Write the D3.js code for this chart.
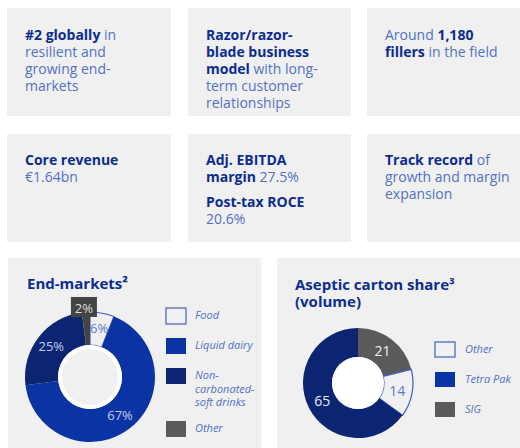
<!DOCTYPE html>
<html>
<head>
<meta charset="utf-8">
<script src="https://cdn.jsdelivr.net/npm/d3@7"></script>
<style>
  html, body { margin: 0; padding: 0; background: #fff; }
  svg { display: block; font-family: "Open Sans", sans-serif; }
</style>
</head>
<body>
<svg id="chart" width="520" height="448"></svg>
<script>
// text of the six fact boxes, one array per box; each line is a list of [text, bold]
const factGlobal = [[["#2 globally", 1], [" in", 0]], [["resilient and", 0]], [["growing end-", 0]], [["markets", 0]]];
const factRazor = [[["Razor/razor-", 1]], [["blade business", 1]], [["model", 1], [" with long-", 0]], [["term customer", 0]], [["relationships", 0]]];
const factFillers = [[["Around ", 0], ["1,180", 1]], [["fillers", 1], [" in the field", 0]]];
const factRevenue = [[["Core revenue", 1]], [["€1.64bn", 0]]];
const factMargin = [[["Adj. EBITDA", 1]], [["margin", 1], [" 27.5%", 0]]];
const factRoce = [[["Post-tax ROCE", 1]], [["20.6%", 0]]];
const factTrack = [[["Track record", 1], [" of", 0]], [["growth and margin", 0]], [["expansion", 0]]];

// end-markets donut
const endMarkets = ["Food", "Liquid dairy", "Non-carbonated-soft drinks", "Other"];
const endMarketShares = [6, 67, 25, 2];
const endMarketLegend = [["Food"], ["Liquid dairy"], ["Non-", "carbonated-", "soft drinks"], ["Other"]];

// aseptic carton share donut (clockwise from top)
const cartonPlayers = ["SIG", "Other", "Tetra Pak"];
const cartonShares = [21, 14, 65];
const cartonLegend = ["Other", "Tetra Pak", "SIG"];

const BOLD = "#0b2d8f", LIGHT = "#5270c6", PANEL = "#f0f0f0";

const svg = d3.select("#chart");

function factBox(x, y, w, h, blocks) {
  svg.append("rect").attr("x", x).attr("y", y).attr("width", w).attr("height", h).attr("fill", PANEL);
  blocks.forEach(b => {
    b.lines.forEach((line, i) => {
      const t = svg.append("text")
        .attr("x", x + 18).attr("y", b.y + i * 17)
        .attr("font-size", 14);
      line.forEach(seg => {
        t.append("tspan").text(seg[0])
          .attr("font-weight", seg[1] ? 700 : 400)
          .attr("fill", seg[1] ? BOLD : LIGHT)
          .attr("xml:space", "preserve");
      });
    });
  });
}

factBox(7, 8, 164, 108, [{y: 40, lines: factGlobal}]);
factBox(188, 8, 163, 108, [{y: 40, lines: factRazor}]);
factBox(367, 8, 160, 108, [{y: 40, lines: factFillers}]);
factBox(7, 134, 164, 108, [{y: 165, lines: factRevenue}]);
factBox(188, 134, 163, 108, [{y: 165, lines: factMargin}, {y: 207, lines: factRoce}]);
factBox(367, 134, 160, 108, [{y: 165, lines: factTrack}]);

// ---------- left panel: end-markets ----------
svg.append("rect").attr("x", 8).attr("y", 258).attr("width", 253).attr("height", 190).attr("fill", PANEL);
svg.append("text").attr("x", 27).attr("y", 289).attr("font-size", 15).attr("font-weight", 700)
  .attr("fill", BOLD).text("End-markets²");

const emColor = d3.scaleOrdinal().domain(endMarkets).range([PANEL, "#0a33a3", "#0b2573", "#444444"]);
const emLegendColor = d3.scaleOrdinal().domain(endMarkets).range([PANEL, "#0a33a3", "#0b2573", "#5a5a5a"]);
const emText = d3.scaleOrdinal().domain(endMarkets).range(["#5a78cc", "#c4cdf0", "#c4cdf0", "#dcdcdc"]);

const pie = d3.pie().sort(null).startAngle(0).endAngle(2 * Math.PI);
const emArcs = pie(endMarketShares);
const c1 = {x: 90, y: 377}, R1 = 65, r1 = 32;
const arc1 = d3.arc().innerRadius(r1).outerRadius(R1);
const label1 = d3.arc().innerRadius(49).outerRadius(49);

const g1 = svg.append("g").attr("transform", `translate(${c1.x},${c1.y})`);
g1.selectAll("path.seg").data(emArcs).enter().append("path")
  .attr("class", "seg")
  .attr("d", arc1)
  .attr("fill", (d, i) => emColor(endMarkets[i]))
  .attr("stroke", (d, i) => i === 0 ? "#3d5fc4" : "none")
  .attr("stroke-width", 1.2);
g1.append("circle").attr("r", r1).attr("fill", "#fff");
g1.append("circle").attr("r", 28).attr("fill", "#f0f0f0");

emArcs.forEach((d, i) => {
  const name = endMarkets[i];
  if (name === "Other") {
    // small slice gets a callout tag above the ring
    const mid = (d.startAngle + d.endAngle) / 2;
    const bx = Math.sin(mid) * R1 - 2;
    g1.append("rect").attr("x", bx - 13).attr("y", -R1 - 15).attr("width", 26).attr("height", 20).attr("fill", "#444444");
    g1.append("text").attr("x", bx).attr("y", -R1 + 0.5).attr("text-anchor", "middle")
      .attr("font-size", 13).attr("fill", "#dcdcdc").text(d.data + "%");
  } else {
    const p = label1.centroid(d);
    g1.append("text").attr("x", p[0]).attr("y", p[1] + 4.5).attr("text-anchor", "middle")
      .attr("font-size", 13).attr("fill", emText(name)).text(d.data + "%");
  }
});

const emLegY = [308, 338, 368, 421];
endMarkets.forEach((name, i) => {
  svg.append("rect").attr("x", 166).attr("y", emLegY[i]).attr("width", 20).attr("height", 16)
    .attr("fill", emLegendColor(name))
    .attr("stroke", i === 0 ? "#3d5fc4" : "none").attr("stroke-width", 1.2);
  svg.append("text").attr("x", 195).attr("y", emLegY[i] + 11)
    .attr("font-size", 11).attr("font-style", "italic").attr("fill", LIGHT)
    .selectAll("tspan").data(endMarketLegend[i]).enter().append("tspan")
    .attr("x", 195).attr("dy", (d, j) => j === 0 ? 0 : 13.5)
    .text(d => d);
});

// ---------- right panel: aseptic carton share ----------
svg.append("rect").attr("x", 277).attr("y", 258).attr("width", 250).attr("height", 190).attr("fill", PANEL);
svg.append("text").attr("x", 295).attr("y", 290).attr("font-size", 15).attr("font-weight", 700)
  .attr("fill", BOLD).text("Aseptic carton share³");
svg.append("text").attr("x", 295).attr("y", 307).attr("font-size", 15).attr("font-weight", 700)
  .attr("fill", BOLD).text("(volume)");

const csColor = d3.scaleOrdinal().domain(cartonPlayers).range(["#5a5a5a", PANEL, "#0b2573"]);
const csLegendColor = d3.scaleOrdinal().domain(cartonPlayers).range(["#5a5a5a", PANEL, "#0a33a3"]);
const csText = d3.scaleOrdinal().domain(cartonPlayers).range(["#f2f2f2", "#5a78cc", "#e8ebf7"]);

const csArcs = pie(cartonShares);
const c2 = {x: 358, y: 383}, R2 = 55, r2 = 26;
const arc2 = d3.arc().innerRadius(r2).outerRadius(R2);
const label2 = d3.arc().innerRadius(40).outerRadius(40);

const g2 = svg.append("g").attr("transform", `translate(${c2.x},${c2.y})`);
g2.selectAll("path.seg").data(csArcs).enter().append("path")
  .attr("class", "seg")
  .attr("d", arc2)
  .attr("fill", (d, i) => csColor(cartonPlayers[i]))
  .attr("stroke", (d, i) => cartonPlayers[i] === "Other" ? "#3d5fc4" : "none")
  .attr("stroke-width", 1.2);
g2.append("circle").attr("r", r2).attr("fill", "#fff");
g2.selectAll("text.lbl").data(csArcs).enter().append("text")
  .attr("class", "lbl")
  .attr("x", d => label2.centroid(d)[0])
  .attr("y", d => label2.centroid(d)[1] + 5)
  .attr("text-anchor", "middle").attr("font-size", 14)
  .attr("fill", (d, i) => csText(cartonPlayers[i]))
  .text(d => d.data);

const csLegY = [342, 372, 402];
cartonLegend.forEach((name, i) => {
  svg.append("rect").attr("x", 435).attr("y", csLegY[i]).attr("width", 20).attr("height", 15)
    .attr("fill", csLegendColor(name))
    .attr("stroke", name === "Other" ? "#3d5fc4" : "none").attr("stroke-width", 1.2);
  svg.append("text").attr("x", 465).attr("y", csLegY[i] + 11)
    .attr("font-size", 11).attr("font-style", "italic").attr("fill", LIGHT).text(name);
});
</script>
</body>
</html>
